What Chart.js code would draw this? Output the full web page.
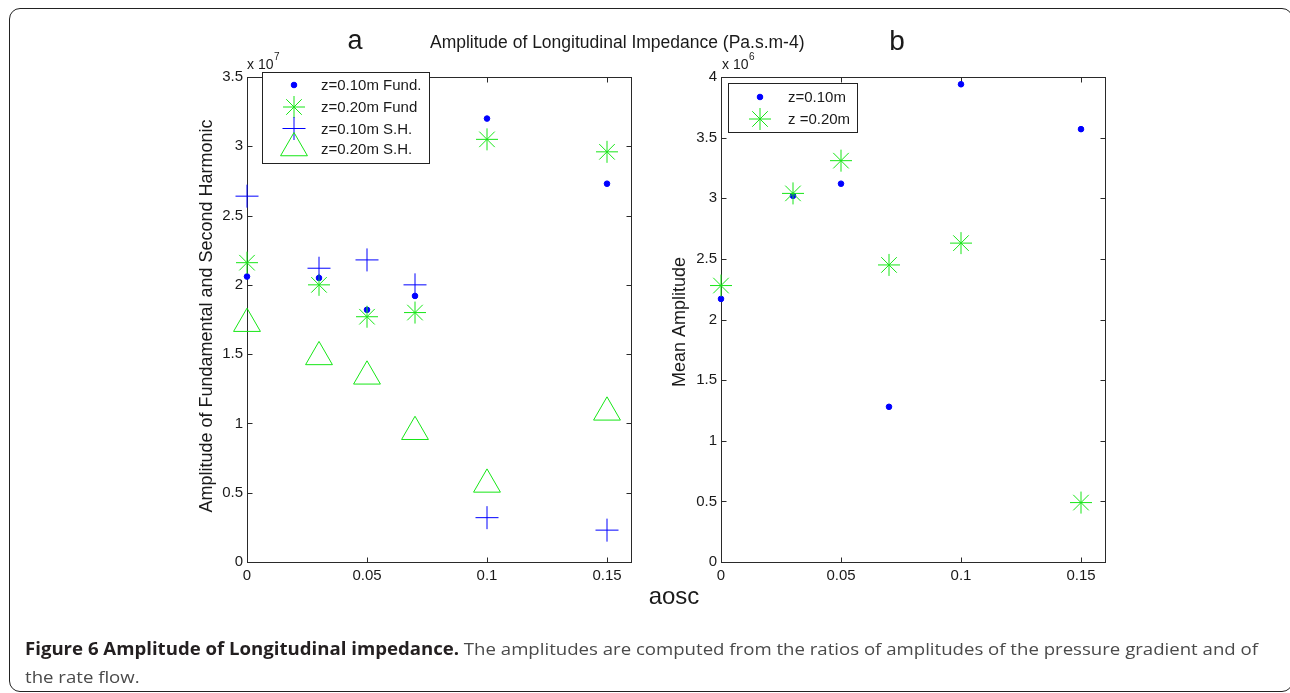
<!DOCTYPE html>
<html>
<head>
<meta charset="utf-8">
<script src="https://cdn.jsdelivr.net/npm/chart.js@4.4.1/dist/chart.umd.min.js"></script>
<style>
  html, body { margin: 0; padding: 0; background: #fff; width: 1290px; height: 693px; overflow: hidden; }
  canvas { position: absolute; left: 0; top: 0; }
  #frame { position: absolute; left: 9px; top: 8px; width: 1284px; height: 684px; box-sizing: border-box;
           border: 1.5px solid #222; border-radius: 11px; }
  .cap { position: absolute; left: 25px; font-family: "Open Sans", "Noto Sans", sans-serif; font-size: 17px;
         color: #4a4a4a; white-space: nowrap; line-height: 28px; transform-origin: 0 0; }
  .cap b { color: #231f20; }
</style>
</head>
<body>
<div id="frame"></div>
<canvas id="chartA" width="1290" height="693"></canvas>
<canvas id="chartB" width="1290" height="693"></canvas>
<div class="cap" id="cap1" style="top:635px"><b>Figure 6 Amplitude of Longitudinal impedance.</b> The amplitudes are computed from the ratios of amplitudes of the pressure gradient and of</div>
<div class="cap" id="cap2" style="top:663px">the rate flow.</div>

<script>
// x values (aosc) shared by every series
const aosc = [0, 0.03, 0.05, 0.07, 0.1, 0.15];

// panel a, values in units of 1e7
const fund10 = [2.06, 2.05, 1.82, 1.92, 3.20, 2.73];
const fund20 = [2.16, 2.00, 1.77, 1.80, 3.05, 2.96];
const sh10 = [2.64, 2.12, 2.18, 2.00, 0.32, 0.23];
const sh20 = [1.72, 1.48, 1.34, 0.94, 0.56, 1.08];

// panel b, values in units of 1e6
const mean10 = [2.17, 3.02, 3.12, 1.28, 3.94, 3.57];
const mean20 = [2.28, 3.04, 3.31, 2.45, 2.63, 0.49];

const xTicks = [0, 0.05, 0.1, 0.15];
const yTicksA = [0, 0.5, 1, 1.5, 2, 2.5, 3, 3.5];
const yTicksB = [0, 0.5, 1, 1.5, 2, 2.5, 3, 3.5, 4];

const BLUE = '#0000ff';
const GREEN = '#16e616';
const INK = '#1a1a1a';
const FONT = '"Liberation Sans", Arial, sans-serif';

// fixed size of the tick label boxes, the rest of the margin is layout padding
const Y_AXIS_W = 40;
const X_AXIS_H = 30;

function series(label, values, style, color, r, i) {
  return {
    label: label,
    data: aosc.map((x, k) => ({ x: x, y: values[k] })),
    pointStyle: style,
    pointRadius: r,
    pointHoverRadius: r,
    borderColor: color,
    backgroundColor: style === 'circle' ? color : 'rgba(0,0,0,0)',
    borderWidth: 1,
    showLine: false,
    clip: false,
    order: 10 - i   // later series on top, like matlab
  };
}

// marker for the legend boxes, same geometry as chart.js point styles
function marker(ctx, style, r, x, y, color) {
  ctx.save();
  ctx.strokeStyle = color;
  ctx.fillStyle = color;
  ctx.lineWidth = 1;
  ctx.beginPath();
  if (style === 'circle') {
    ctx.arc(x, y, r, 0, Math.PI * 2);
    ctx.fill();
  } else if (style === 'triangle') {
    let a = 0;
    for (let k = 0; k < 3; k++) {
      const px = x + Math.sin(a) * r, py = y - Math.cos(a) * r;
      k ? ctx.lineTo(px, py) : ctx.moveTo(px, py);
      a += Math.PI * 2 / 3;
    }
    ctx.closePath();
  } else {
    ctx.moveTo(x, y - r); ctx.lineTo(x, y + r);
    ctx.moveTo(x - r, y); ctx.lineTo(x + r, y);
    if (style === 'star') {
      const d = Math.cos(Math.PI / 4) * r;
      ctx.moveTo(x - d, y - d); ctx.lineTo(x + d, y + d);
      ctx.moveTo(x - d, y + d); ctx.lineTo(x + d, y - d);
    }
  }
  ctx.stroke();
  ctx.restore();
}

function decor(opts) {
  return {
    id: 'decor',
    beforeDatasetsDraw(chart) {
      const { ctx, chartArea: a, scales: { x, y } } = chart;
      const L = Math.round(a.left) + 0.5, R = Math.round(a.right) + 0.5;
      const T = Math.round(a.top) + 0.5, B = Math.round(a.bottom) + 0.5;
      ctx.save();
      ctx.strokeStyle = '#2a2a2a';
      ctx.lineWidth = 1;
      ctx.strokeRect(L, T, R - L, B - T);
      ctx.beginPath();
      x.ticks.forEach(t => {
        const px = Math.round(x.getPixelForValue(t.value)) + 0.5;
        ctx.moveTo(px, B); ctx.lineTo(px, B - 5);
        ctx.moveTo(px, T); ctx.lineTo(px, T + 5);
      });
      y.ticks.forEach(t => {
        const py = Math.round(y.getPixelForValue(t.value)) + 0.5;
        ctx.moveTo(L, py); ctx.lineTo(L + 5, py);
        ctx.moveTo(R, py); ctx.lineTo(R - 5, py);
      });
      ctx.stroke();
      ctx.restore();
    },
    afterDraw(chart) {
      const ctx = chart.ctx;
      ctx.save();
      ctx.fillStyle = INK;
      ctx.textBaseline = 'alphabetic';
      opts.texts.forEach(t => {
        ctx.font = t.size + 'px ' + FONT;
        ctx.textAlign = t.align || 'left';
        if (t.rotate) {
          ctx.save();
          ctx.translate(t.x, t.y);
          ctx.rotate(-Math.PI / 2);
          ctx.fillText(t.text, 0, 0);
          ctx.restore();
        } else {
          ctx.fillText(t.text, t.x, t.y);
        }
      });
      // legend box
      const lg = opts.legend;
      ctx.fillStyle = '#fff';
      ctx.fillRect(lg.x, lg.y, lg.w, lg.h);
      ctx.strokeStyle = '#222';
      ctx.lineWidth = 1;
      ctx.strokeRect(lg.x + 0.5, lg.y + 0.5, lg.w, lg.h);
      ctx.font = '15px ' + FONT;
      ctx.textAlign = 'left';
      ctx.textBaseline = 'middle';
      chart.data.datasets.forEach((d, i) => {
        const ry = lg.rows[i];
        const my = d.pointStyle === 'triangle' ? ry - 1 : ry;
        marker(ctx, d.pointStyle, d.pointRadius, lg.mx, my, d.borderColor);
        ctx.fillStyle = INK;
        ctx.fillText(d.label, lg.tx, ry + 1);
      });
      ctx.restore();
    }
  };
}

function makeChart(id, datasets, yMax, yTicks, area, opts) {
  const pad = {
    left: area.left - Y_AXIS_W,
    top: area.top,
    right: 1290 - area.right,
    bottom: 693 - area.bottom - X_AXIS_H
  };
  return new Chart(document.getElementById(id), {
    type: 'scatter',
    data: { datasets: datasets },
    options: {
      responsive: false,
      animation: false,
      events: [],
      layout: { padding: pad },
      plugins: { legend: { display: false }, tooltip: { enabled: false } },
      scales: {
        x: {
          type: 'linear', min: 0, max: 0.16,
          grid: { display: false, drawTicks: false },
          border: { display: false },
          afterBuildTicks: s => { s.ticks = xTicks.map(v => ({ value: v })); },
          afterFit: s => { s.height = X_AXIS_H; },
          ticks: { color: INK, padding: 5, maxRotation: 0, autoSkip: false,
                   font: { family: FONT, size: 15 }, callback: v => String(v) }
        },
        y: {
          type: 'linear', min: 0, max: yMax,
          grid: { display: false, drawTicks: false },
          border: { display: false },
          afterBuildTicks: s => { s.ticks = yTicks.map(v => ({ value: v })); },
          afterFit: s => { s.width = Y_AXIS_W; },
          ticks: { color: INK, padding: 4, autoSkip: false,
                   font: { family: FONT, size: 15 }, callback: v => String(v) }
        }
      }
    },
    plugins: [decor(opts)]
  });
}

makeChart('chartA', [
  series('z=0.10m Fund.', fund10, 'circle', BLUE, 2.8, 0),
  series('z=0.20m Fund', fund20, 'star', GREEN, 11, 1),
  series('z=0.10m S.H.', sh10, 'cross', BLUE, 11.5, 2),
  series('z=0.20m S.H.', sh20, 'triangle', GREEN, 15.5, 3)
], 3.5, yTicksA, { left: 247, top: 77, right: 631, bottom: 562 }, {
  texts: [
    { text: 'a', x: 355, y: 49, size: 27, align: 'center' },
    { text: 'Amplitude of Longitudinal Impedance (Pa.s.m-4)', x: 430, y: 48, size: 17.5 },
    { text: 'x 10', x: 247, y: 69, size: 14 },
    { text: '7', x: 274, y: 60, size: 10 },
    { text: 'Amplitude of Fundamental and Second Harmonic', x: 212, y: 316, size: 18, align: 'center', rotate: true },
    { text: 'aosc', x: 674, y: 604, size: 24, align: 'center' }
  ],
  legend: { x: 262, y: 72, w: 167, h: 91, mx: 294, tx: 321, rows: [85, 107, 128.5, 149] }
});

makeChart('chartB', [
  series('z=0.10m', mean10, 'circle', BLUE, 2.8, 0),
  series('z =0.20m', mean20, 'star', GREEN, 11, 1)
], 4, yTicksB, { left: 721, top: 77, right: 1105, bottom: 562 }, {
  texts: [
    { text: 'b', x: 897, y: 50, size: 28, align: 'center' },
    { text: 'x 10', x: 722, y: 69, size: 14 },
    { text: '6', x: 749, y: 60, size: 10 },
    { text: 'Mean Amplitude', x: 685, y: 322, size: 18, align: 'center', rotate: true }
  ],
  legend: { x: 728, y: 83, w: 129, h: 49, mx: 760, tx: 788, rows: [97, 119] }
});

// stretch the first caption line to the width it has in the figure
const cap1 = document.getElementById('cap1');
const cap2 = document.getElementById('cap2');
const k = 1233 / cap1.getBoundingClientRect().width;
cap1.style.transform = 'scaleX(' + k + ')';
cap2.style.transform = 'scaleX(' + k + ')';
</script>
</body>
</html>
